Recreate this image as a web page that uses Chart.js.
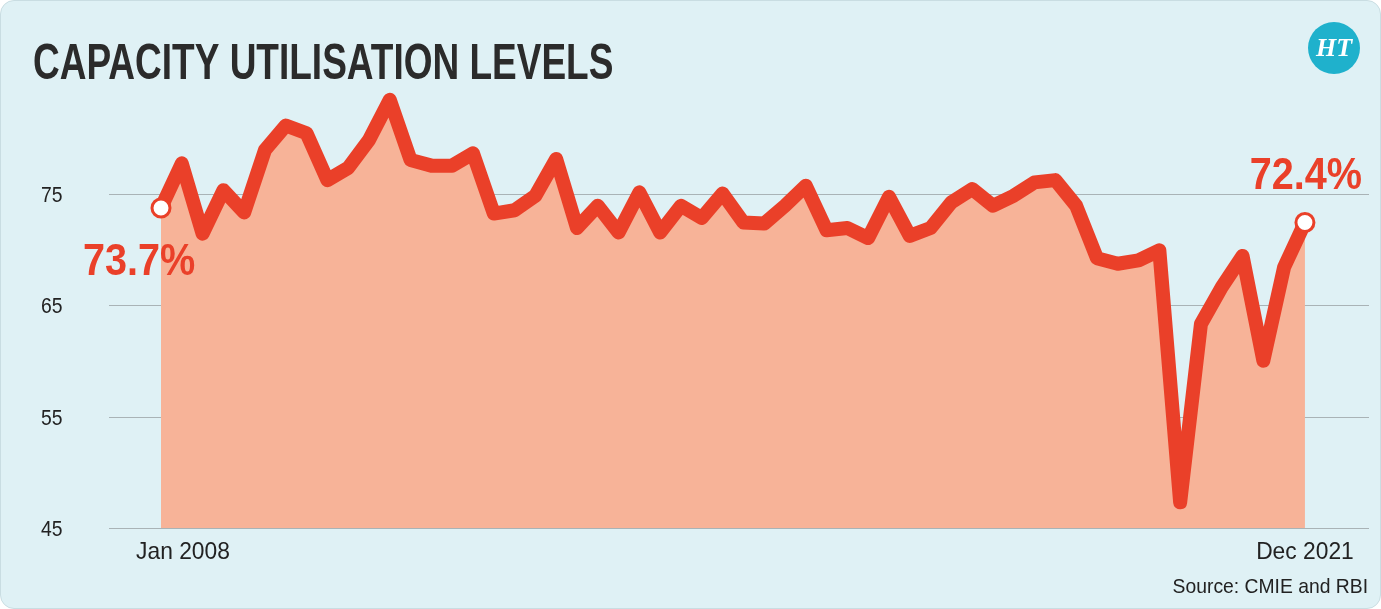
<!DOCTYPE html>
<html><head><meta charset="utf-8">
<script src="https://cdn.jsdelivr.net/npm/chart.js@4"></script>
<style>
html,body{margin:0;padding:0;background:#fff;}
#card{position:absolute;left:0;top:0;width:1379px;height:607px;background:#dff1f5;border:1px solid #c9dde2;border-radius:14px;overflow:hidden;}
canvas{position:absolute;left:0;top:0;}
</style></head><body>
<div id="card"><canvas id="c" width="1381" height="609"></canvas></div>
<script>
const title = "CAPACITY UTILISATION LEVELS";
const xLabels = ["Jan 2008","Dec 2021"];
const yTicks = [45,55,65,75];
const values = [73.7,77.7,71.4,75.3,73.3,78.9,81.1,80.4,76.2,77.3,79.8,83.4,78.0,77.5,77.5,78.6,
73.2,73.5,74.8,78.1,71.9,73.9,71.5,75.1,71.5,73.9,72.8,75.0,72.4,72.3,73.9,75.7,71.7,71.9,71.0,74.7,
71.2,71.9,74.2,75.4,73.9,74.8,76.0,76.2,73.9,69.2,68.7,69.9,47.3,63.3,66.6,69.4,60.0,68.4,72.4];
values.splice(47,0,69.0);
const firstLabel = "73.7%", lastLabel = "72.4%";
const source = "Source: CMIE and RBI";
const pts = values.map((v,i)=>({x:i,y:v}));
const N = values.length-1;
const red = "#ea4029";

function txt(c,s,x,y,font,align,sx){
  c.save(); c.font=font; c.translate(x,y); c.scale(sx,1);
  const w=c.measureText(s).width;
  let dx = align==='left'?0:align==='right'?-w:-w/2;
  c.textAlign='left'; c.fillText(s,dx,0); c.restore();
}

const deco = {
  id:'deco',
  beforeDatasetsDraw(ch){
    const c=ch.ctx, ya=ch.scales.y, ca=ch.chartArea;
    c.save();
    c.strokeStyle="#a9b3b6"; c.lineWidth=1;
    c.fillStyle="#222"; c.textBaseline="middle";
    yTicks.forEach(t=>{const y=Math.round(ya.getPixelForValue(t))+0.5;
      c.beginPath(); c.moveTo(ca.left,y); c.lineTo(1368,y); c.stroke();
      txt(c,String(t),40,y+1,"22px 'Liberation Sans', sans-serif",'left',0.88);});
    c.restore();
  },
  afterDraw(ch){
    const c=ch.ctx, xa=ch.scales.x;
    c.save();
    c.fillStyle="#2b2b2b"; c.textBaseline="alphabetic";
    txt(c,title,32,78,"bold 50px 'Liberation Sans', sans-serif",'left',0.74);
    c.fillStyle="#222";
    txt(c,xLabels[0],xa.getPixelForValue(0)+22,558,"24px 'Liberation Sans', sans-serif",'center',0.95);
    txt(c,xLabels[1],xa.getPixelForValue(N),558,"24px 'Liberation Sans', sans-serif",'center',0.95);
    txt(c,source,1367,592,"21px 'Liberation Sans', sans-serif",'right',0.92);
    c.fillStyle=red;
    txt(c,firstLabel,82,274,"bold 44px 'Liberation Sans', sans-serif",'left',0.9);
    txt(c,lastLabel,1361,188,"bold 44px 'Liberation Sans', sans-serif",'right',0.9);
    c.fillStyle="#1fb1cc"; c.beginPath(); c.arc(1333,47,26,0,Math.PI*2); c.fill();
    c.fillStyle="#fff"; c.textBaseline="middle";
    txt(c,"HT",1333,48,"italic bold 26px 'Liberation Serif', serif",'center',1);
    c.restore();
  }
};

new Chart(document.getElementById('c'),{
  type:'line',
  data:{datasets:[{data:pts,borderColor:red,borderWidth:14,backgroundColor:"#f7b398",fill:'start',
    tension:0,borderJoinStyle:'round',borderCapStyle:'round',
    pointRadius:ctx=>(ctx.dataIndex===0||ctx.dataIndex===N)?9:0,
    pointBackgroundColor:"#fff",pointBorderColor:red,pointBorderWidth:3}]},
  options:{responsive:false,animation:false,
    layout:{padding:{left:108,right:13,top:81,bottom:82}},
    plugins:{legend:{display:false},tooltip:{enabled:false}},
    scales:{
      x:{type:'linear',display:false,min:-2.5,max:58.08},
      y:{display:false,min:45,max:85}
    }},
  plugins:[deco]
});
</script></body></html>
